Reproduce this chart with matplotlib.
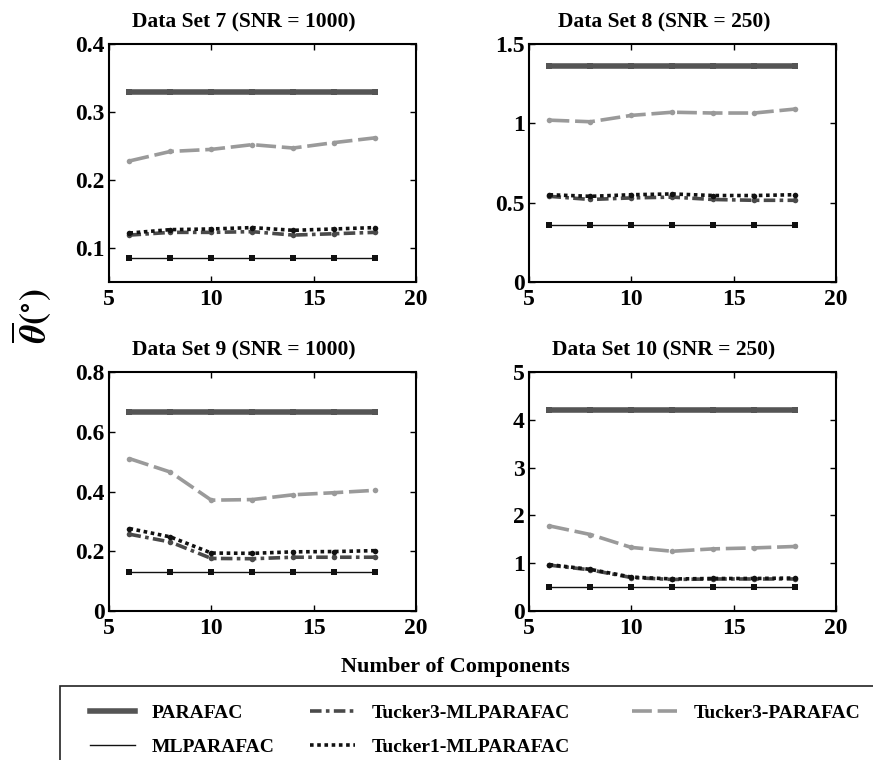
import numpy as np
import matplotlib
matplotlib.use("Agg")
import matplotlib.pyplot as plt
from matplotlib.lines import Line2D
from matplotlib.patches import Rectangle

plt.rcParams["font.family"] = ["Liberation Serif", "DejaVu Serif"]
plt.rcParams["font.weight"] = "bold"
plt.rcParams["mathtext.fontset"] = "stix"

# ---------------- data ----------------
components = [6, 8, 10, 12, 14, 16, 18]

titles = ["Data Set 7 (SNR = 1000)", "Data Set 8 (SNR = 250)",
          "Data Set 9 (SNR = 1000)", "Data Set 10 (SNR = 250)"]

parafac = [
    [0.329, 0.329, 0.329, 0.329, 0.329, 0.329, 0.329],
    [1.36, 1.36, 1.36, 1.36, 1.36, 1.36, 1.36],
    [0.665, 0.665, 0.665, 0.665, 0.665, 0.665, 0.665],
    [4.21, 4.21, 4.21, 4.21, 4.21, 4.21, 4.21],
]
mlparafac = [
    [0.085, 0.085, 0.085, 0.085, 0.085, 0.085, 0.085],
    [0.36, 0.36, 0.36, 0.36, 0.36, 0.36, 0.36],
    [0.129, 0.129, 0.129, 0.129, 0.129, 0.129, 0.129],
    [0.50, 0.50, 0.50, 0.50, 0.50, 0.50, 0.50],
]
tucker3_ml = [
    [0.119, 0.123, 0.123, 0.124, 0.119, 0.121, 0.123],
    [0.54, 0.52, 0.53, 0.535, 0.52, 0.515, 0.515],
    [0.257, 0.231, 0.176, 0.175, 0.180, 0.180, 0.180],
    [0.96, 0.86, 0.70, 0.66, 0.67, 0.67, 0.67],
]
tucker1_ml = [
    [0.122, 0.127, 0.128, 0.130, 0.126, 0.128, 0.130],
    [0.55, 0.54, 0.55, 0.555, 0.545, 0.545, 0.55],
    [0.276, 0.248, 0.194, 0.193, 0.198, 0.199, 0.202],
    [0.97, 0.87, 0.71, 0.67, 0.68, 0.68, 0.69],
]
tucker3_parafac = [
    [0.228, 0.242, 0.245, 0.252, 0.247, 0.255, 0.262],
    [1.02, 1.01, 1.05, 1.07, 1.065, 1.065, 1.09],
    [0.51, 0.465, 0.371, 0.373, 0.389, 0.396, 0.404],
    [1.78, 1.60, 1.33, 1.25, 1.30, 1.32, 1.35],
]

ylims = [(0.05, 0.4), (0, 1.5), (0, 0.8), (0, 5)]
yticks = [[0.1, 0.2, 0.3, 0.4], [0, 0.5, 1, 1.5],
          [0, 0.2, 0.4, 0.6, 0.8], [0, 1, 2, 3, 4, 5]]
yticklabels = [["0.1", "0.2", "0.3", "0.4"], ["0", "0.5", "1", "1.5"],
               ["0", "0.2", "0.4", "0.6", "0.8"], ["0", "1", "2", "3", "4", "5"]]

# ---------------- styles ----------------
styles = {
    "PARAFAC": dict(color="#555555", lw=4.0, ls="-", marker="s"),
    "MLPARAFAC": dict(color="#111111", lw=1.0, ls="-", marker="s"),
    "Tucker3-MLPARAFAC": dict(color="#4a4a4a", lw=2.6, ls=(0, (3.2, 1.2, 1.0, 1.2)), marker="o"),
    "Tucker1-MLPARAFAC": dict(color="#111111", lw=2.6, ls=(0, (1.0, 1.0)), marker="o"),
    "Tucker3-PARAFAC": dict(color="#9a9a9a", lw=2.6, ls=(0, (5.5, 1.6)), marker="o"),
}
series = {
    "PARAFAC": parafac,
    "MLPARAFAC": mlparafac,
    "Tucker3-MLPARAFAC": tucker3_ml,
    "Tucker1-MLPARAFAC": tucker1_ml,
    "Tucker3-PARAFAC": tucker3_parafac,
}
draw_order = ["PARAFAC", "Tucker3-PARAFAC", "Tucker3-MLPARAFAC",
              "Tucker1-MLPARAFAC", "MLPARAFAC"]

fig = plt.figure(figsize=(8.73, 7.6), dpi=100)

W, H = 873, 760
boxes = [(109, 44, 416, 282), (529, 44, 836, 282),
         (109, 372, 416, 611), (529, 372, 836, 611)]

for i, (x0, y0, x1, y1) in enumerate(boxes):
    ax = fig.add_axes([x0 / W, 1 - y1 / H, (x1 - x0) / W, (y1 - y0) / H])
    for name in draw_order:
        st = styles[name]
        ax.plot(components, series[name][i], color=st["color"], lw=st["lw"],
                ls=st["ls"], marker=st["marker"], markersize=4,
                markeredgewidth=0, markerfacecolor=st["color"])
    ax.set_xlim(5, 20)
    ax.set_xticks([5, 10, 15, 20])
    ax.set_ylim(*ylims[i])
    ax.set_yticks(yticks[i])
    ax.set_yticklabels(yticklabels[i])
    ax.tick_params(direction="in", top=True, right=True, labelsize=17,
                   length=4, width=1, pad=3)
    ax.tick_params(axis="x", pad=5)
    for lab in ax.get_xticklabels() + ax.get_yticklabels():
        lab.set_fontweight("bold")
    for sp in ax.spines.values():
        sp.set_linewidth(1.5)
    ax.set_title(titles[i], fontsize=15.5, fontweight="bold", pad=12, x=0.44)

fig.text(31 / W, 1 - 316 / H, r"$\overline{\theta}(^{\circ})$", fontsize=26,
         fontweight="normal", rotation=90, ha="center", va="center")
fig.text(455 / W, 1 - 667 / H, "Number of Components", fontsize=16,
         fontweight="bold", ha="center", va="center")

# legend: outer frame runs past the right and bottom edge
fig.patches.append(Rectangle((60 / W, -0.05), 1.0, 1 - 686 / H + 0.05,
                             transform=fig.transFigure, fill=False,
                             edgecolor="#222222", lw=1.2))

legend_cols = [["PARAFAC", "MLPARAFAC"],
               ["Tucker3-MLPARAFAC", "Tucker1-MLPARAFAC"],
               ["Tucker3-PARAFAC"]]
col_x = [90, 310, 632]
for names, cx in zip(legend_cols, col_x):
    handles = [Line2D([], [], color=styles[n]["color"], lw=styles[n]["lw"],
                      ls=styles[n]["ls"]) for n in names]
    leg = fig.legend(handles, names, loc="upper left",
                     bbox_to_anchor=(cx / W, 1 - 704 / H),
                     frameon=False,
                     prop=dict(family="Liberation Serif", weight="bold", size=14),
                     handlelength=2.3, handletextpad=0.85, borderpad=0,
                     labelspacing=0.85, borderaxespad=0)

fig.savefig("out.png", dpi=100)
